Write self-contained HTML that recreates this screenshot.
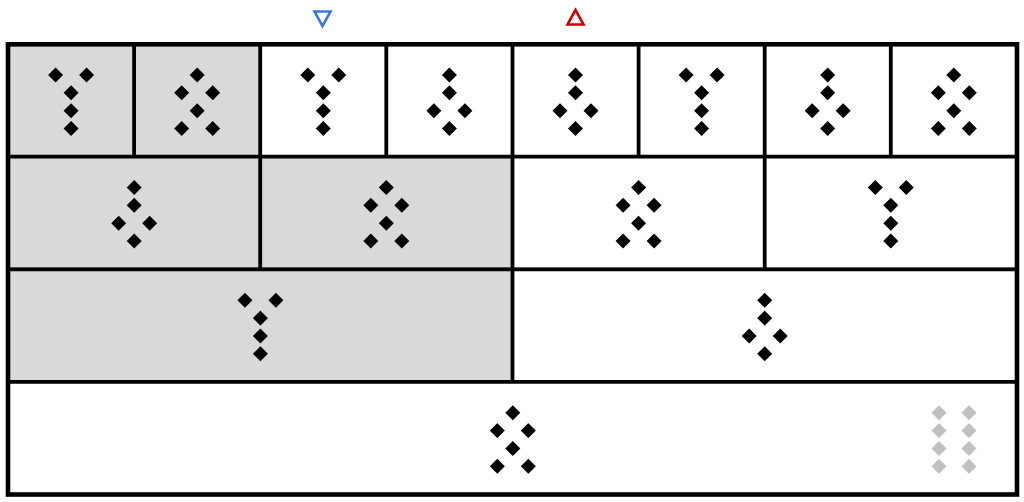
<!DOCTYPE html>
<html><head><meta charset="utf-8"><style>
html,body{margin:0;padding:0;background:#fff;}
svg{display:block;}
</style></head><body>
<svg width="1024" height="502" viewBox="0 0 1024 502" xmlns="http://www.w3.org/2000/svg">
<defs>
<path id="d" d="M0,-7.5L7.5,0L0,7.5L-7.5,0Z"/>
<g id="Y"><use href="#d" x="-15.5" y="-25.5"/><use href="#d" x="15.5" y="-25.5"/><use href="#d" x="0" y="-7.7"/><use href="#d" x="0" y="10.2"/><use href="#d" x="0" y="28"/></g>
<g id="X"><use href="#d" x="0" y="-25.5"/><use href="#d" x="-15.5" y="-7.7"/><use href="#d" x="15.5" y="-7.7"/><use href="#d" x="0" y="10.2"/><use href="#d" x="-15.5" y="28"/><use href="#d" x="15.5" y="28"/></g>
<g id="K"><use href="#d" x="0" y="-25.5"/><use href="#d" x="0" y="-7.7"/><use href="#d" x="-15.5" y="10.2"/><use href="#d" x="15.5" y="10.2"/><use href="#d" x="0" y="28"/></g>
</defs>
<rect x="8" y="44" width="252" height="112.6" fill="#d9d9d9"/>
<rect x="8" y="156.6" width="504.4" height="112.7" fill="#d9d9d9"/>
<rect x="8" y="269.3" width="504.4" height="112.6" fill="#d9d9d9"/>
<g stroke="#000" stroke-width="3.8" fill="none">
<line x1="8" y1="156.6" x2="1017" y2="156.6"/>
<line x1="8" y1="269.3" x2="1017" y2="269.3"/>
<line x1="8" y1="381.9" x2="1017" y2="381.9"/>
<line x1="134.1" y1="44" x2="134.1" y2="156.6"/>
<line x1="386.3" y1="44" x2="386.3" y2="156.6"/>
<line x1="638.6" y1="44" x2="638.6" y2="156.6"/>
<line x1="890.8" y1="44" x2="890.8" y2="156.6"/>
<line x1="260.2" y1="44" x2="260.2" y2="269.3"/>
<line x1="764.7" y1="44" x2="764.7" y2="269.3"/>
<line x1="512.5" y1="44" x2="512.5" y2="381.9"/>
</g>
<rect x="8" y="44.3" width="1009" height="450.2" stroke="#000" stroke-width="4.6" fill="none"/>
<g fill="#000">
<use href="#Y" x="71.1" y="100.5"/>
<use href="#X" x="197.2" y="100.5"/>
<use href="#Y" x="323.3" y="100.5"/>
<use href="#K" x="449.4" y="100.5"/>
<use href="#K" x="575.5" y="100.5"/>
<use href="#Y" x="701.6" y="100.5"/>
<use href="#K" x="827.7" y="100.5"/>
<use href="#X" x="953.8" y="100.5"/>
<use href="#K" x="134.2" y="213"/>
<use href="#X" x="386.3" y="213"/>
<use href="#X" x="638.6" y="213"/>
<use href="#Y" x="890.8" y="213"/>
<use href="#Y" x="260.4" y="325.8"/>
<use href="#K" x="764.7" y="325.8"/>
<use href="#X" x="512.8" y="438.3"/>
</g>
<g fill="#c0c0c0">
<use href="#d" x="939" y="412.7"/><use href="#d" x="969" y="412.7"/>
<use href="#d" x="939" y="430.6"/><use href="#d" x="969" y="430.6"/>
<use href="#d" x="939" y="448.5"/><use href="#d" x="969" y="448.5"/>
<use href="#d" x="939" y="466.4"/><use href="#d" x="969" y="466.4"/>
</g>
<polygon points="314.5,11.5 330.5,11.5 322.5,26" fill="none" stroke="#3a78d8" stroke-width="2.6"/>
<polygon points="567.5,24.5 583.5,24.5 575.5,10" fill="none" stroke="#d40000" stroke-width="2.6"/>
</svg>
</body></html>
